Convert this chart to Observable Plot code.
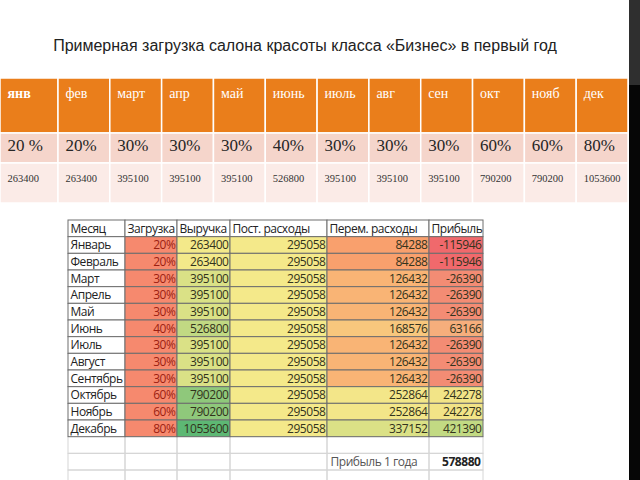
<!DOCTYPE html>
<html>
<head>
<meta charset="utf-8">
<script src="https://cdn.jsdelivr.net/npm/d3@7"></script>
<script src="https://cdn.jsdelivr.net/npm/@observablehq/plot@0.6"></script>
<style>
  html, body { margin: 0; padding: 0; background: #fff; }
  body { width: 640px; height: 480px; overflow: hidden; position: relative; }
  #title { position: absolute; left: 0; top: 36px; width: 610px; text-align: center;
           font-family: "Liberation Sans", Arial, sans-serif; font-size: 16px; color: #222; line-height: 20px; }
  #top { position: absolute; left: 0; top: 78px; }
  #sheet { position: absolute; left: 0; top: 203px; }
  #sheet text { letter-spacing: -0.45px; }
  #stripTop { position: absolute; left: 629px; top: 0; width: 11px; height: 85px; background: #2f2f2f; }
  #stripBottom { position: absolute; left: 629px; top: 85px; width: 11px; height: 395px; background: #060606; }
</style>
</head>
<body>
<div id="title"></div>
<div id="top"></div>
<div id="sheet"></div>
<div id="stripTop"></div>
<div id="stripBottom"></div>
<script>
// ---------- data ----------
const titleText = "Примерная загрузка салона красоты класса «Бизнес» в первый год";

const months = ["янв", "фев", "март", "апр", "май", "июнь", "июль", "авг", "сен", "окт", "нояб", "дек"];
const loadLabels = ["20 %", "20%", "30%", "30%", "30%", "40%", "30%", "30%", "30%", "60%", "60%", "80%"];
const revenue = [263400, 263400, 395100, 395100, 395100, 526800, 395100, 395100, 395100, 790200, 790200, 1053600];

const sheetHeaders = ["Месяц", "Загрузка", "Выручка", "Пост. расходы", "Перем. расходы", "Прибыль"];
const monthNames = ["Январь", "Февраль", "Март", "Апрель", "Май", "Июнь", "Июль", "Август", "Сентябрь", "Октябрь", "Ноябрь", "Декабрь"];
const load = [20, 20, 30, 30, 30, 40, 30, 30, 30, 60, 60, 80];
const fixedCosts = [295058, 295058, 295058, 295058, 295058, 295058, 295058, 295058, 295058, 295058, 295058, 295058];
const variableCosts = [84288, 84288, 126432, 126432, 126432, 168576, 126432, 126432, 126432, 252864, 252864, 337152];
const profit = [-115946, -115946, -26390, -26390, -26390, 63166, -26390, -26390, -26390, 242278, 242278, 421390];
const totalLabel = "Прибыль 1 года";
const totalProfit = 578880;

// ---------- styles ----------
document.getElementById("title").textContent = titleText;

const topFill = {head: "#ea7e1b", pct: "#f5d5cb", rev: "#fbebe7"};
const serif = "Liberation Serif, Times New Roman, serif";
const sans = "Open Sans, Noto Sans, sans-serif";

function norm(arr) {
  const [lo, hi] = d3.extent(arr);
  return v => (v - lo) / (hi - lo);
}
const loadColor = () => "#f6896e";
const revNorm = norm(revenue);
const revColor = v => d3.scaleLinear().domain([0, 1]).range(["#f3e98a", "#5db874"])(revNorm(v));
const fixedColor = () => "#f4e98a";
const varNorm = norm(variableCosts);
const varColor = v => d3.scaleLinear().domain([0, 0.6, 1]).range(["#f9a06d", "#f8e78a", "#dbe186"])(varNorm(v));
const profNorm = norm(profit);
const profColor = v => d3.scaleLinear().domain([0, 0.6, 1]).range(["#f0696c", "#fbe688", "#c2da83"])(profNorm(v));

// ---------- top table ----------
const topCells = [];
months.forEach((m, i) => {
  topCells.push({c: i, r: 0, text: m, kind: "head"});
  topCells.push({c: i, r: 1, text: loadLabels[i], kind: "pct"});
  topCells.push({c: i, r: 2, text: String(revenue[i]), kind: "rev"});
});

const topPlot = Plot.plot({
  width: 640, height: 125, margin: 0,
  x: {type: "linear", domain: [0, 1, 12], range: [0, 58, 628], axis: null},
  y: {type: "linear", domain: [0, 1, 2, 3], range: [0, 55, 85, 125], axis: null},
  style: {background: "transparent", overflow: "visible"},
  marks: [
    Plot.rect(topCells, {x1: "c", x2: d => d.c + 1, y1: "r", y2: d => d.r + 1,
      fill: d => topFill[d.kind], stroke: "white", strokeWidth: 1.5}),
    Plot.text(topCells.filter(d => d.kind === "head" && d.c === 0), {x: "c", y: "r", text: "text",
      dx: 7, dy: 15, textAnchor: "start", fill: "white", fontFamily: serif, fontSize: 14, fontWeight: "bold"}),
    Plot.text(topCells.filter(d => d.kind === "head" && d.c > 0), {x: "c", y: "r", text: "text",
      dx: 7, dy: 15, textAnchor: "start", fill: "white", fontFamily: serif, fontSize: 14}),
    Plot.text(topCells.filter(d => d.kind === "pct"), {x: "c", y: "r", text: "text",
      dx: 7, dy: 12, textAnchor: "start", fill: "#262626", fontFamily: serif, fontSize: 17}),
    Plot.text(topCells.filter(d => d.kind === "rev"), {x: "c", y: "r", text: "text",
      dx: 7, dy: 15, textAnchor: "start", fill: "#333", fontFamily: serif, fontSize: 10.5})
  ]
});
document.getElementById("top").appendChild(topPlot);

// ---------- spreadsheet ----------
const sheetCells = [];
sheetHeaders.forEach((h, c) => sheetCells.push({c, r: 0, text: h, align: "start", fill: "white", color: "#222"}));
monthNames.forEach((m, i) => {
  const r = i + 1;
  sheetCells.push({c: 0, r, text: m, align: "start", fill: "white", color: "#222"});
  sheetCells.push({c: 1, r, text: load[i] + "%", align: "end", fill: loadColor(load[i]), color: "#9c1f12"});
  sheetCells.push({c: 2, r, text: String(revenue[i]), align: "end", fill: revColor(revenue[i]), color: "#33331c"});
  sheetCells.push({c: 3, r, text: String(fixedCosts[i]), align: "end", fill: fixedColor(fixedCosts[i]), color: "#33331c"});
  sheetCells.push({c: 4, r, text: String(variableCosts[i]), align: "end", fill: varColor(variableCosts[i]), color: "#33331c"});
  sheetCells.push({c: 5, r, text: String(profit[i]), align: "end", fill: profColor(profit[i]), color: "#33331c"});
});
const gridCells = d3.cross(d3.range(6), [13, 14, 15]).map(([c, r]) => ({c, r}));

const sheetPlot = Plot.plot({
  width: 640, height: 277, margin: 0,
  x: {type: "linear", domain: [0, 1, 2, 3, 4, 5, 6], range: [68, 125, 177, 230, 327, 429, 483], axis: null},
  y: {type: "linear", domain: [0, 15], range: [17, 267], axis: null},
  style: {background: "transparent", overflow: "visible"},
  marks: [
    Plot.rect(gridCells, {x1: "c", x2: d => d.c + 1, y1: "r", y2: d => d.r + 1,
      fill: "none", stroke: "#d6d6d6", strokeWidth: 1}),
    Plot.rect(sheetCells, {x1: "c", x2: d => d.c + 1, y1: "r", y2: d => d.r + 1,
      fill: "fill", stroke: "#6e6e6e", strokeWidth: 1}),
    Plot.text(sheetCells.filter(d => d.align === "start"), {x: "c", y: d => d.r + 0.5, text: "text",
      dx: 2, textAnchor: "start", fill: "color", fontFamily: sans, fontSize: 12}),
    Plot.text(sheetCells.filter(d => d.align === "end"), {x: d => d.c + 1, y: d => d.r + 0.5, text: "text",
      dx: -2, textAnchor: "end", fill: "color", fontFamily: sans, fontSize: 12}),
    Plot.text([totalLabel], {x: 4, y: 14.5, text: d => d,
      dx: 3, textAnchor: "start", fill: "#555", fontFamily: sans, fontSize: 12}),
    Plot.text([totalProfit], {x: 6, y: 14.5, text: d => String(d),
      dx: -3, textAnchor: "end", fill: "#222", fontFamily: sans, fontSize: 12, fontWeight: "bold"})
  ]
});
document.getElementById("sheet").appendChild(sheetPlot);
</script>
</body>
</html>
